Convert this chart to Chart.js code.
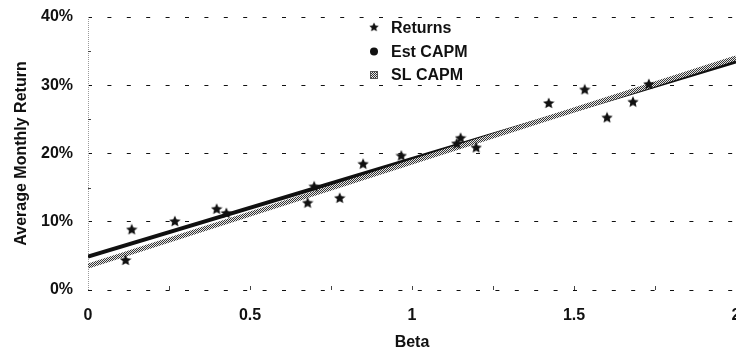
<!DOCTYPE html>
<html>
<head>
<meta charset="utf-8">
<script src="https://cdn.jsdelivr.net/npm/chart.js@4.4.1/dist/chart.umd.min.js"></script>
<style>
  html, body { margin: 0; padding: 0; background: #fff; }
  #wrap { width: 736px; height: 349px; }
</style>
</head>
<body>
<div id="wrap"><canvas id="c" width="736" height="349"></canvas></div>
<script>
// Portfolio betas and their average monthly returns (%)
const betas   = [0.116, 0.135, 0.268, 0.397, 0.427, 0.678, 0.698, 0.777, 0.849, 0.967, 1.138, 1.150, 1.198, 1.422, 1.533, 1.602, 1.682, 1.731];
const returns = [4.4,   8.9,   10.1,  11.9,  11.3,  12.8,  15.2,  13.5,  18.5,  19.7,  21.5,  22.3,  20.9,  27.4,  29.4,  25.3,  27.6,  30.2];

// Fitted CAPM lines, evaluated at the ends of the beta range
const lineBetas = [0, 2];
const estCapm   = [4.9, 33.5];
const slCapm    = [3.5, 34.0];

const seriesNames = ['Returns', 'Est CAPM', 'SL CAPM'];
const yTicks = [0, 10, 20, 30, 40];
const xTicks = [0, 0.5, 1, 1.5, 2];

const FONT = "'Liberation Sans', Arial, sans-serif";

// filled five-point star used as the marker for returns
function makeStar(size) {
  const cv = document.createElement('canvas');
  cv.width = size; cv.height = size;
  const g = cv.getContext('2d');
  const cx = size / 2, cy = size / 2 + 0.5, R = size / 2, r = R * 0.47;
  g.beginPath();
  for (let i = 0; i < 10; i++) {
    const rad = i % 2 === 0 ? R : r;
    const a = -Math.PI / 2 + i * Math.PI / 5;
    const px = cx + rad * Math.cos(a), py = cy + rad * Math.sin(a);
    if (i === 0) g.moveTo(px, py); else g.lineTo(px, py);
  }
  g.closePath();
  g.fillStyle = '#111';
  g.fill();
  return cv;
}
const star = makeStar(12);

// checkered grey texture for the SL CAPM line
function makeChecker() {
  const cv = document.createElement('canvas');
  cv.width = 2; cv.height = 2;
  const g = cv.getContext('2d');
  g.fillStyle = '#e8e8e8'; g.fillRect(0, 0, 2, 2);
  g.fillStyle = '#333'; g.fillRect(0, 0, 1, 1); g.fillRect(1, 1, 1, 1);
  return cv;
}
const ctx = document.getElementById('c').getContext('2d');
const checker = ctx.createPattern(makeChecker(), 'repeat');

const toPts = (xs, ys) => xs.map((x, i) => ({ x: x, y: ys[i] }));

// small inward tick marks along both axes, plus the dotted value axis
const axisMarks = {
  id: 'axisMarks',
  beforeDatasetsDraw(chart) {
    const { ctx, scales: { x, y }, chartArea: a } = chart;
    ctx.save();
    ctx.strokeStyle = '#9a9a9a';
    ctx.lineWidth = 1;
    ctx.setLineDash([1, 1]);
    ctx.beginPath();
    ctx.moveTo(a.left + 0.5, a.top);
    ctx.lineTo(a.left + 0.5, a.bottom);
    ctx.stroke();
    ctx.setLineDash([]);
    ctx.strokeStyle = '#444';
    for (let v = 5; v < 40; v += 10) {
      const py = Math.round(y.getPixelForValue(v)) + 0.5;
      ctx.beginPath(); ctx.moveTo(a.left, py); ctx.lineTo(a.left + 3, py); ctx.stroke();
    }
    for (let v = 0.25; v < 2; v += 0.25) {
      const px = Math.round(x.getPixelForValue(v)) + 0.5;
      ctx.beginPath(); ctx.moveTo(px, a.bottom); ctx.lineTo(px, a.bottom - 4); ctx.stroke();
    }
    ctx.restore();
  }
};

// legend drawn inside the plot area
const innerLegend = {
  id: 'innerLegend',
  afterDraw(chart) {
    const { ctx, chartArea: a } = chart;
    const x0 = 374, y0 = a.top + 11, step = 23.5;
    ctx.save();
    ctx.font = 'bold 16px ' + FONT;
    ctx.fillStyle = '#111';
    ctx.textBaseline = 'middle';
    ctx.textAlign = 'left';
    // Returns
    ctx.drawImage(star, x0 - 5, y0 - 6, 10, 10);
    ctx.fillText(seriesNames[0], x0 + 17, y0 + 1);
    // Est CAPM
    ctx.beginPath(); ctx.arc(x0, y0 + step, 4, 0, Math.PI * 2); ctx.fill();
    ctx.fillText(seriesNames[1], x0 + 17, y0 + step + 1);
    // SL CAPM
    ctx.fillStyle = checker;
    ctx.fillRect(x0 - 4, y0 + 2 * step - 4, 8, 8);
    ctx.strokeStyle = '#555'; ctx.lineWidth = 1;
    ctx.strokeRect(x0 - 3.5, y0 + 2 * step - 3.5, 7, 7);
    ctx.fillStyle = '#111';
    ctx.fillText(seriesNames[2], x0 + 17, y0 + 2 * step + 1);
    ctx.restore();
  }
};

new Chart(ctx, {
  type: 'scatter',
  data: {
    datasets: [
      {
        label: seriesNames[0],
        data: toPts(betas, returns),
        pointStyle: star,
        pointRadius: 6,
        showLine: false,
        order: 0
      },
      {
        label: seriesNames[2],
        data: toPts(lineBetas, slCapm),
        showLine: true,
        borderColor: checker,
        borderWidth: 5,
        pointRadius: 0,
        order: 1
      },
      {
        label: seriesNames[1],
        data: toPts(lineBetas, estCapm),
        showLine: true,
        borderColor: '#111',
        borderWidth: 4,
        pointRadius: 0,
        order: 2
      }
    ]
  },
  options: {
    responsive: false,
    animation: false,
    layout: { autoPadding: false, padding: { top: 17, right: -2, left: 0, bottom: 0 } },
    plugins: { legend: { display: false }, tooltip: { enabled: false } },
    scales: {
      x: {
        type: 'linear',
        min: 0, max: 2,
        afterBuildTicks(scale) { scale.ticks = xTicks.map(v => ({ value: v })); },
        afterFit(scale) { scale.height = 59; scale.paddingLeft = 0; scale.paddingRight = 0; },
        grid: { display: false, drawTicks: false },
        border: { display: false },
        ticks: {
          padding: 16,
          color: '#111',
          maxRotation: 0,
          autoSkip: false,
          callback: v => String(v),
          font: { family: FONT, size: 16, weight: 'bold' }
        },
        title: {
          display: true,
          text: 'Beta',
          color: '#111',
          padding: { top: 0, bottom: -3 },
          font: { family: FONT, size: 16, weight: 'bold' }
        }
      },
      y: {
        min: 0, max: 40,
        afterBuildTicks(scale) { scale.ticks = yTicks.map(v => ({ value: v })); },
        afterFit(scale) { scale.width = 88; scale.paddingTop = 0; scale.paddingBottom = 0; },
        grid: { color: '#111', lineWidth: 1, drawTicks: false },
        border: { display: false, dash: [4, 15.4] },
        ticks: {
          padding: 15,
          color: '#111',
          callback: v => v + '%',
          font: { family: FONT, size: 16, weight: 'bold' }
        },
        title: {
          display: true,
          text: 'Average Monthly Return',
          color: '#111',
          padding: { top: 12.4, bottom: 0 },
          font: { family: FONT, size: 16, weight: 'bold' }
        }
      }
    }
  },
  plugins: [axisMarks, innerLegend]
});
</script>
</body>
</html>
